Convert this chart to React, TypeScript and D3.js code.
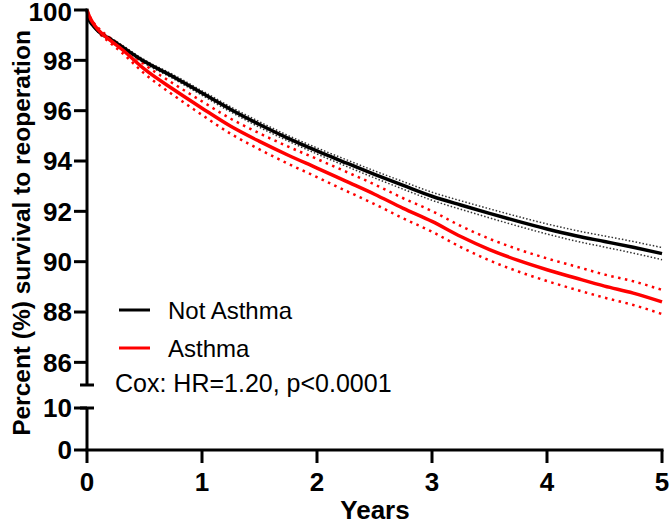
import * as d3 from 'd3';

// time points (years)
const years = [0, 0.02, 0.05, 0.1, 0.2, 0.3, 0.5, 0.75, 1, 1.25, 1.5, 1.75, 2, 2.25, 2.5, 2.75, 3, 3.25, 3.5, 3.75, 4, 4.25, 4.5, 4.75, 5];

const notAsthma = [100, 99.6, 99.4, 99.15, 98.85, 98.55, 97.95, 97.35, 96.7, 96.05, 95.45, 94.9, 94.4, 93.93, 93.47, 93.03, 92.6, 92.25, 91.92, 91.6, 91.3, 91.03, 90.8, 90.57, 90.32];
const notAsthmaLo = [100, 99.57, 99.36, 99.1, 98.79, 98.48, 97.88, 97.27, 96.61, 95.95, 95.34, 94.79, 94.28, 93.8, 93.33, 92.88, 92.44, 92.08, 91.74, 91.41, 91.1, 90.82, 90.58, 90.34, 90.08];
const notAsthmaHi = [100, 99.63, 99.44, 99.2, 98.91, 98.62, 98.02, 97.43, 96.79, 96.15, 95.56, 95.01, 94.52, 94.06, 93.61, 93.18, 92.76, 92.42, 92.1, 91.79, 91.5, 91.24, 91.02, 90.8, 90.56];

const asthma = [100, 99.75, 99.5, 99.2, 98.8, 98.45, 97.65, 96.85, 96.1, 95.38, 94.78, 94.23, 93.72, 93.2, 92.68, 92.12, 91.6, 91.0, 90.48, 90.05, 89.68, 89.35, 89.03, 88.75, 88.4];
const asthmaLo = [100, 99.72, 99.45, 99.12, 98.7, 98.32, 97.47, 96.62, 95.83, 95.08, 94.46, 93.89, 93.36, 92.82, 92.29, 91.72, 91.19, 90.58, 90.05, 89.61, 89.23, 88.89, 88.57, 88.28, 87.92];
const asthmaHi = [100, 99.78, 99.55, 99.28, 98.9, 98.58, 97.83, 97.08, 96.37, 95.68, 95.1, 94.57, 94.08, 93.58, 93.07, 92.52, 92.01, 91.42, 90.91, 90.49, 90.13, 89.81, 89.49, 89.22, 88.88];

const upperTicks = [86, 88, 90, 92, 94, 96, 98, 100];
const lowerTicks = [0, 10];
const xTicks = [0, 1, 2, 3, 4, 5];

const FONT = '"Liberation Sans", Arial, sans-serif';

export default function App() {
  const width = 670;
  const height = 525;
  const axisX = 87;

  const x = d3.scaleLinear().domain([0, 5]).range([axisX, 662]);
  const yUp = d3.scaleLinear().domain([85.1, 100]).range([385, 10]);
  const yLow = d3.scaleLinear().domain([0, 10]).range([450, 408]);

  const line = (vals: number[]) =>
    d3
      .line<number>()
      .x((_, i) => x(years[i]))
      .y((v) => yUp(v))
      .curve(d3.curveMonotoneX)(vals) || '';

  const axisStroke = 3;
  const tickFont = 26;

  return (
    <svg
      width={width}
      height={height}
      style={{ position: 'absolute', left: 0, top: 0, background: '#fff' }}
      fontFamily={FONT}
    >
      {/* confidence bands */}
      <path d={line(notAsthmaLo)} fill="none" stroke="#333" strokeWidth={1.5} strokeDasharray="1.5 2" />
      <path d={line(notAsthmaHi)} fill="none" stroke="#333" strokeWidth={1.5} strokeDasharray="1.5 2" />
      <path d={line(asthmaLo)} fill="none" stroke="#ff0000" strokeWidth={2.5} strokeDasharray="2.5 4.5" />
      <path d={line(asthmaHi)} fill="none" stroke="#ff0000" strokeWidth={2.5} strokeDasharray="2.5 4.5" />

      {/* survival curves */}
      <path d={line(notAsthma)} fill="none" stroke="#000" strokeWidth={3.5} />
      <path d={line(asthma)} fill="none" stroke="#ff0000" strokeWidth={3.5} />

      {/* y axis, upper segment */}
      <line x1={axisX} x2={axisX} y1={yUp(100) - 1.5} y2={yUp.range()[0]} stroke="#000" strokeWidth={axisStroke} />
      <line x1={axisX - 7} x2={axisX + 7} y1={yUp.range()[0]} y2={yUp.range()[0]} stroke="#000" strokeWidth={axisStroke} />
      {upperTicks.map((t) => (
        <g key={t}>
          <line x1={axisX - 13} x2={axisX} y1={yUp(t)} y2={yUp(t)} stroke="#000" strokeWidth={axisStroke} />
          <text x={axisX - 15} y={yUp(t) + (t === 100 ? 1.5 : 0)} dy="0.36em" textAnchor="end" fontSize={tickFont} fontWeight="bold">
            {t}
          </text>
        </g>
      ))}

      {/* y axis, lower segment */}
      <line x1={axisX} x2={axisX} y1={yLow(10)} y2={yLow(0)} stroke="#000" strokeWidth={axisStroke} />
      <line x1={axisX - 7} x2={axisX + 7} y1={yLow(10)} y2={yLow(10)} stroke="#000" strokeWidth={axisStroke} />
      {lowerTicks.map((t) => (
        <g key={t}>
          <line x1={axisX - 13} x2={axisX} y1={yLow(t)} y2={yLow(t)} stroke="#000" strokeWidth={axisStroke} />
          <text x={axisX - 15} y={yLow(t)} dy="0.36em" textAnchor="end" fontSize={tickFont} fontWeight="bold">
            {t}
          </text>
        </g>
      ))}

      {/* x axis */}
      <line x1={axisX - 1.5} x2={x(5) + 1.5} y1={yLow(0)} y2={yLow(0)} stroke="#000" strokeWidth={axisStroke} />
      {xTicks.map((t) => (
        <g key={t}>
          <line x1={x(t)} x2={x(t)} y1={yLow(0)} y2={yLow(0) + 13} stroke="#000" strokeWidth={axisStroke} />
          <text x={x(t)} y={491} textAnchor="middle" fontSize={tickFont} fontWeight="bold">
            {t}
          </text>
        </g>
      ))}

      {/* axis titles */}
      <text x={375} y={519} textAnchor="middle" fontSize={26} fontWeight="bold">
        Years
      </text>
      <text
        transform="translate(30,233) rotate(-90)"
        textAnchor="middle"
        fontSize={24.5}
        fontWeight="bold"
      >
        Percent (%) survival to reoperation
      </text>

      {/* legend */}
      <line x1={119} x2={150} y1={310} y2={310} stroke="#000" strokeWidth={3} />
      <text x={168} y={318.5} fontSize={24}>
        Not Asthma
      </text>
      <line x1={119} x2={150} y1={348} y2={348} stroke="#ff0000" strokeWidth={3} />
      <text x={168} y={356.5} fontSize={24}>
        Asthma
      </text>
      <text x={115} y={392} fontSize={25}>
        Cox: HR=1.20, p&lt;0.0001
      </text>
    </svg>
  );
}
